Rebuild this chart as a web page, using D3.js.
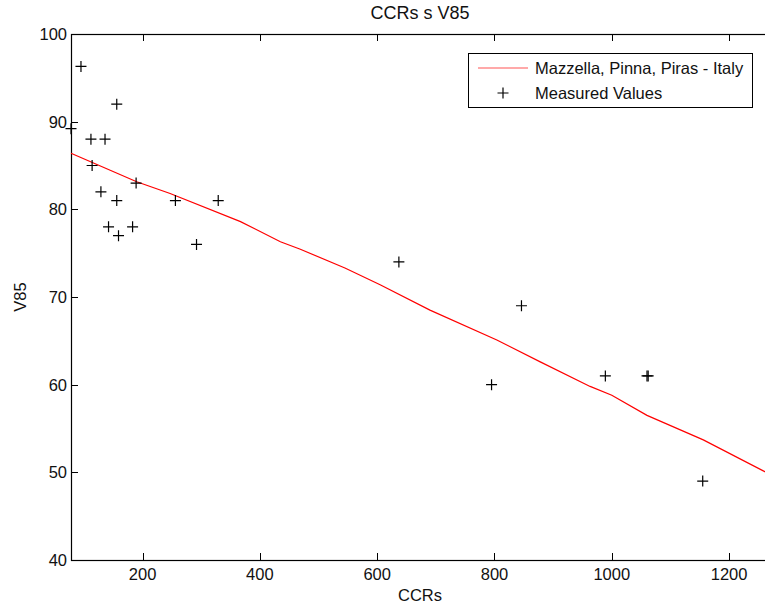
<!DOCTYPE html>
<html>
<head>
<meta charset="utf-8">
<script src="https://cdn.jsdelivr.net/npm/d3@7"></script>
<style>
  body { margin: 0; background: #fff; }
  svg { display: block; font-family: "Liberation Sans", Arial, sans-serif; }
  text { fill: #111; }
</style>
</head>
<body>
<svg id="chart" width="765" height="605"></svg>
<script>
// measured points
const measuredCCR = [78, 95, 156, 112, 136, 114, 129, 189, 156, 142, 159, 183, 256, 292, 329, 637, 846, 795, 989, 1060, 1062, 1155];
const measuredV85 = [89.2, 96.3, 92, 88, 88, 85, 82, 83, 81, 78, 77, 78, 81, 76, 81, 74, 69, 60, 61, 61, 61, 49];

// model curve (Mazzella, Pinna, Piras - Italy)
const modelCCR = [78, 190, 247, 367, 435, 469, 545, 605, 690, 804, 878, 963, 1000, 1060, 1156, 1261, 1268];
const modelV85 = [86.4, 83.15, 81.8, 78.6, 76.3, 75.45, 73.3, 71.4, 68.5, 65.1, 62.6, 59.8, 58.8, 56.5, 53.7, 50.07, 49.85];

const xTicks = [200, 400, 600, 800, 1000, 1200];
const yTicks = [40, 50, 60, 70, 80, 90, 100];

const chartTitle = 'CCRs s V85';
const xLabel = 'CCRs';
const yLabel = 'V85';
const legendLabels = ['Mazzella, Pinna, Piras - Italy', 'Measured Values'];

const svg = d3.select('#chart');
const box = { left: 71, right: 769, top: 34, bottom: 560 };

const x = d3.scaleLinear().domain([78, 1268]).range([box.left, box.right]);
const y = d3.scaleLinear().domain([40, 100]).range([box.bottom, box.top]);

const fontSize = 16.5;
const tickLen = 7;

// axes box
svg.append('rect')
  .attr('x', box.left + 0.5).attr('y', box.top + 0.5)
  .attr('width', box.right - box.left).attr('height', box.bottom - box.top)
  .attr('fill', 'none').attr('stroke', '#000').attr('stroke-width', 1.2);

// x ticks (bottom + top, inward)
const gx = svg.append('g');
xTicks.forEach(t => {
  const px = Math.round(x(t)) + 0.5;
  gx.append('line').attr('x1', px).attr('x2', px)
    .attr('y1', box.bottom).attr('y2', box.bottom - tickLen)
    .attr('stroke', '#000');
  gx.append('line').attr('x1', px).attr('x2', px)
    .attr('y1', box.top).attr('y2', box.top + tickLen)
    .attr('stroke', '#000');
  gx.append('text').attr('x', x(t)).attr('y', 580)
    .attr('text-anchor', 'middle').attr('font-size', fontSize)
    .text(t);
});

// y ticks
const gy = svg.append('g');
yTicks.forEach(t => {
  const py = Math.round(y(t)) + 0.5;
  gy.append('line').attr('x1', box.left).attr('x2', box.left + tickLen)
    .attr('y1', py).attr('y2', py).attr('stroke', '#000');
  gy.append('text').attr('x', 67).attr('y', y(t))
    .attr('dy', '0.36em')
    .attr('text-anchor', 'end').attr('font-size', fontSize)
    .text(t);
});

// labels
svg.append('text').attr('x', (box.left + box.right) / 2).attr('y', 19)
  .attr('text-anchor', 'middle').attr('font-size', 18).text(chartTitle);
svg.append('text').attr('x', (box.left + box.right) / 2).attr('y', 601)
  .attr('text-anchor', 'middle').attr('font-size', fontSize).text(xLabel);
svg.append('text')
  .attr('transform', `translate(26, ${(box.top + box.bottom) / 2}) rotate(-90)`)
  .attr('text-anchor', 'middle').attr('font-size', fontSize).text(yLabel);

// model curve
const line = d3.line().x(d => x(d[0])).y(d => y(d[1]));
svg.append('path')
  .datum(d3.zip(modelCCR, modelV85))
  .attr('d', line)
  .attr('fill', 'none')
  .attr('stroke', '#ff0000')
  .attr('stroke-width', 1.2);

// measured crosses
const arm = 5.5;
const plus = d => `M${x(d[0]) - arm},${y(d[1])}H${x(d[0]) + arm}M${x(d[0])},${y(d[1]) - arm}V${y(d[1]) + arm}`;
svg.append('g').selectAll('path')
  .data(d3.zip(measuredCCR, measuredV85))
  .join('path')
  .attr('d', plus)
  .attr('fill', 'none')
  .attr('stroke', '#000')
  .attr('stroke-width', 1.2);

// legend
const lg = svg.append('g');
lg.append('rect')
  .attr('x', 468.5).attr('y', 53.5).attr('width', 284).attr('height', 54)
  .attr('fill', '#fff').attr('stroke', '#000').attr('stroke-width', 1);
lg.append('line')
  .attr('x1', 478).attr('x2', 528).attr('y1', 68).attr('y2', 68)
  .attr('stroke', '#ff5555').attr('stroke-width', 1.2);
lg.append('path')
  .attr('d', `M${503 - arm},93H${503 + arm}M503,${93 - arm}V${93 + arm}`)
  .attr('stroke', '#000').attr('stroke-width', 1.2);
legendLabels.forEach((lab, i) => {
  lg.append('text').attr('x', 535).attr('y', 68 + i * 25)
    .attr('dy', '0.36em').attr('font-size', fontSize).text(lab);
});
</script>
</body>
</html>
